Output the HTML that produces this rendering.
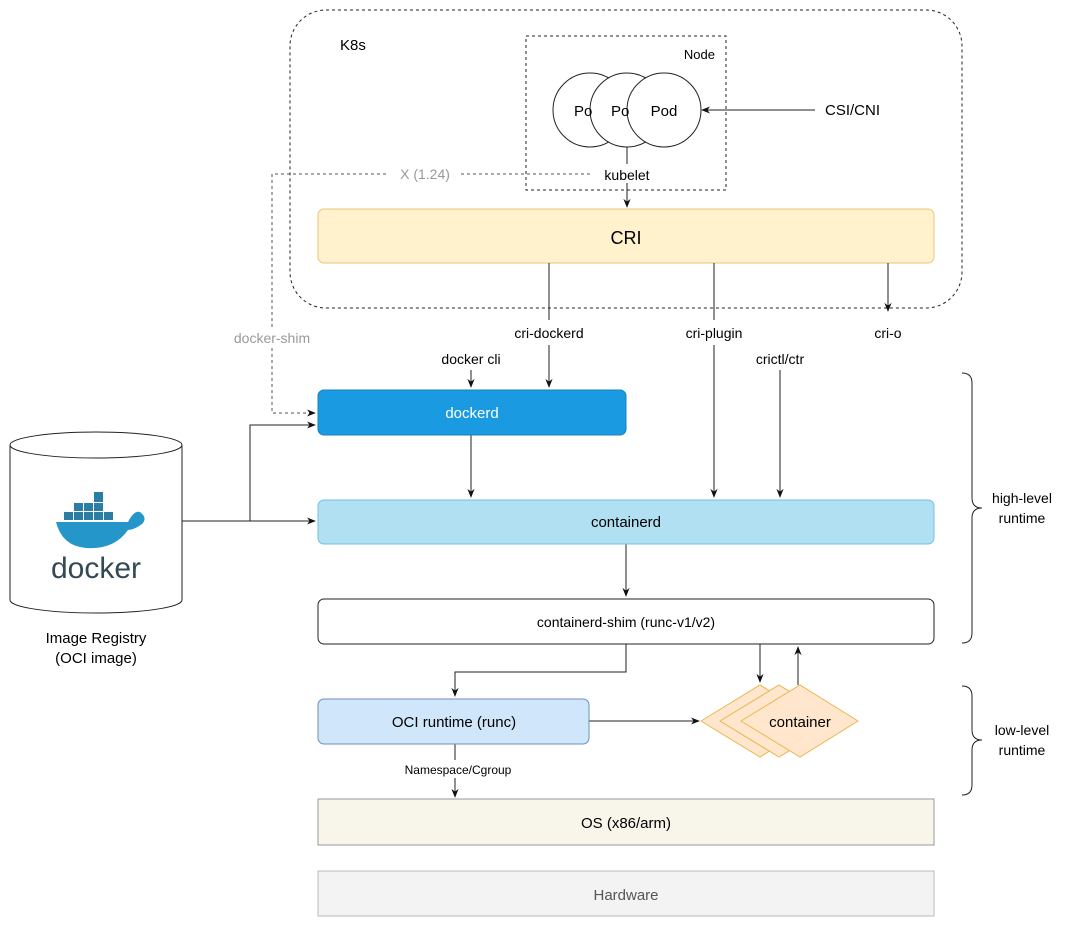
<!DOCTYPE html>
<html><head><meta charset="utf-8"><style>body{margin:0;background:#fff}svg{display:block}text{font-family:"Liberation Sans",sans-serif}</style></head><body>
<svg width="1080" height="926" viewBox="0 0 1080 926" xmlns="http://www.w3.org/2000/svg">
<defs><marker id="a" viewBox="0 0 10 10" refX="9" refY="5" markerWidth="9" markerHeight="9" markerUnits="userSpaceOnUse" orient="auto"><path d="M0,1 L10,5 L0,9 L3,5z" fill="#111"/></marker></defs>
<g fill="none" stroke="#222" stroke-width="1">
<rect x="290" y="10" width="672" height="298" rx="36" stroke-dasharray="3,3"/>
<rect x="526" y="36" width="200" height="154" stroke-dasharray="3,3"/>
</g>
<text x="340" y="50" font-size="15">K8s</text>
<text x="715" y="59" font-size="13" text-anchor="end">Node</text>
<g fill="#fff" stroke="#222"><circle cx="590" cy="110" r="37"/><circle cx="627" cy="110" r="37"/><circle cx="664" cy="110" r="37"/></g>
<text x="574" y="116" font-size="15">Po</text><text x="611" y="116" font-size="15">Po</text><text x="664" y="116" font-size="15" text-anchor="middle">Pod</text>
<text x="825" y="115" font-size="15">CSI/CNI</text>
<g stroke="#222" fill="none">
<line x1="815" y1="110" x2="702" y2="110" marker-end="url(#a)"/>
<line x1="627" y1="147" x2="627" y2="165"/>
<line x1="627" y1="183" x2="627" y2="207" marker-end="url(#a)"/>
</g>
<path d="M590,174 H272 V413 H315" fill="none" stroke="#555" stroke-dasharray="3,3" marker-end="url(#a)"/>
<rect x="388" y="164" width="70" height="18" fill="#fff"/>
<text x="425" y="179" font-size="14" fill="#999" text-anchor="middle">X (1.24)</text>
<rect x="598" y="164" width="58" height="18" fill="#fff"/>
<text x="627" y="180" font-size="14" text-anchor="middle">kubelet</text>
<rect x="225" y="328" width="94" height="18" fill="#fff"/>
<text x="272" y="343" font-size="14" fill="#999" text-anchor="middle">docker-shim</text>
<rect x="318" y="209" width="616" height="54" rx="6" fill="#fff2cc" stroke="#e8c774"/>
<text x="626" y="244" font-size="18" text-anchor="middle">CRI</text>
<g stroke="#222" fill="none">
<line x1="549" y1="263" x2="549" y2="320"/><line x1="549" y1="345" x2="549" y2="387" marker-end="url(#a)"/>
<line x1="714" y1="263" x2="714" y2="320"/><line x1="714" y1="345" x2="714" y2="497" marker-end="url(#a)"/>
<line x1="888" y1="263" x2="888" y2="311" marker-end="url(#a)"/>
<line x1="471" y1="370" x2="471" y2="387" marker-end="url(#a)"/>
<line x1="780" y1="370" x2="780" y2="497" marker-end="url(#a)"/>
<line x1="471" y1="435" x2="471" y2="497" marker-end="url(#a)"/>
<line x1="626" y1="544" x2="626" y2="596" marker-end="url(#a)"/>
<path d="M626,644 V672 H455 V696" marker-end="url(#a)"/>
<line x1="760" y1="644" x2="760" y2="682" marker-end="url(#a)"/>
<line x1="798" y1="685" x2="798" y2="647" marker-end="url(#a)"/>
<line x1="589" y1="721" x2="699" y2="721" marker-end="url(#a)"/>
<line x1="455" y1="744" x2="455" y2="760"/><line x1="455" y1="778" x2="455" y2="797" marker-end="url(#a)"/>
<path d="M182,521 H250 V425 H315" marker-end="url(#a)"/>
<line x1="250" y1="521" x2="315" y2="521" marker-end="url(#a)"/>
</g>
<text x="549" y="338" font-size="14" text-anchor="middle">cri-dockerd</text>
<text x="714" y="338" font-size="14" text-anchor="middle">cri-plugin</text>
<text x="888" y="338" font-size="14" text-anchor="middle">cri-o</text>
<text x="471" y="364" font-size="14" text-anchor="middle">docker cli</text>
<text x="780" y="364" font-size="14" text-anchor="middle">crictl/ctr</text>
<rect x="318" y="390" width="308" height="45" rx="6" fill="#1a9ae0" stroke="#1580c0"/>
<text x="472" y="418" font-size="15" fill="#fff" text-anchor="middle">dockerd</text>
<rect x="318" y="500" width="616" height="44" rx="6" fill="#b1e0f2" stroke="#74c0e2"/>
<text x="626" y="527" font-size="15" text-anchor="middle">containerd</text>
<rect x="318" y="599" width="616" height="45" rx="6" fill="#fff" stroke="#222"/>
<text x="626" y="627" font-size="14" text-anchor="middle">containerd-shim (runc-v1/v2)</text>
<rect x="318" y="699" width="271" height="45" rx="6" fill="#cfe6fb" stroke="#6c8ebf"/>
<text x="454" y="727" font-size="15" text-anchor="middle">OCI runtime (runc)</text>
<rect x="395" y="761" width="130" height="16" fill="#fff"/>
<text x="458" y="774" font-size="12" text-anchor="middle">Namespace/Cgroup</text>
<g fill="#ffe6cc" stroke="#e8b84f">
<path d="M701,721 L760,685 L818,721 L760,757z"/>
<path d="M720,721 L779,685 L838,721 L779,757z"/>
<path d="M741,721 L800,685 L858,721 L800,757z"/>
</g>
<text x="800" y="727" font-size="15" text-anchor="middle">container</text>
<rect x="318" y="799" width="616" height="46" fill="#f8f5ea" stroke="#999"/>
<text x="626" y="828" font-size="15" text-anchor="middle">OS (x86/arm)</text>
<rect x="318" y="871" width="616" height="45" fill="#f3f3f3" stroke="#bbb"/>
<text x="626" y="900" font-size="15" fill="#555" text-anchor="middle">Hardware</text>
<g fill="none" stroke="#222">
<path d="M962,373 Q972,373 972,383 V498 Q972,508 982,508 Q972,508 972,518 V633 Q972,643 962,643"/>
<path d="M962,686 Q972,686 972,696 V730 Q972,740 982,740 Q972,740 972,750 V785 Q972,795 962,795"/>
</g>
<text x="1022" y="503" font-size="14" text-anchor="middle">high-level</text>
<text x="1022" y="523" font-size="14" text-anchor="middle">runtime</text>
<text x="1022" y="735" font-size="14" text-anchor="middle">low-level</text>
<text x="1022" y="755" font-size="14" text-anchor="middle">runtime</text>
<g stroke="#222" fill="#fff">
<path d="M10,445 V600 A86,13 0 0 0 182,600 V445"/>
<ellipse cx="96" cy="445" rx="86" ry="13"/>
</g>
<g fill="#2a7ea4">
<rect x="64" y="512" width="9" height="8"/><rect x="74" y="512" width="9" height="8"/><rect x="84" y="512" width="9" height="8"/><rect x="94" y="512" width="9" height="8"/><rect x="104" y="512" width="9" height="8"/>
<rect x="74" y="503" width="9" height="8"/><rect x="84" y="503" width="9" height="8"/><rect x="94" y="503" width="9" height="8"/>
<rect x="94" y="492" width="9" height="10"/>
</g>
<path d="M56,522 H128 Q134,510 140,512 Q148,518 142,524 Q134,530 128,530 Q114,550 86,548 Q62,546 56,522z" fill="#2496c9"/>
<text x="96" y="578" font-size="30" fill="#334a55" text-anchor="middle">docker</text>
<text x="96" y="643" font-size="15" text-anchor="middle">Image Registry</text>
<text x="96" y="663" font-size="15" text-anchor="middle">(OCI image)</text>
</svg>
</body></html>
